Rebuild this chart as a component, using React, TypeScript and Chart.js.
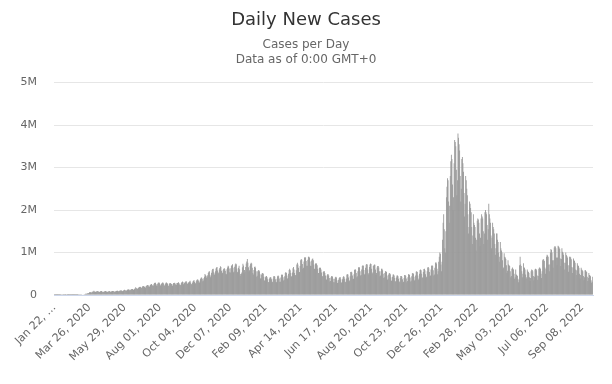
import React, { useEffect, useRef } from "react";
import { Chart, registerables } from "chart.js";

Chart.register(...registerables);

// Daily new cases in thousands, starting Jan 22, 2020 (one row = one week, Wed..Tue)
const cases2020a = [
  0.6, 0.1, 0.3, 0.7, 0.8, 0.8, 1.7,
  1.5, 1.8, 2.1, 2.6, 2.8, 3.2, 3.9,
  3.7, 3.2, 3.4, 2.7, 3.0, 2.5, 2.0,
  2.0, 15.1, 6.5, 2.7, 2.1, 2.0, 1.9,
  0.5, 0.6, 1.0, 0.6, 0.7, 0.6, 0.9,
  1.0, 1.3, 1.6, 1.9, 2.1, 1.9, 2.2,
  2.3, 2.6, 3.9, 3.8, 4.0, 3.6, 4.6,
  7.0, 7.5, 10.8, 11.0, 12.6, 15.0, 17.0,
  19.5, 27.0, 32.0, 31.5, 33.0, 40.0, 42.0,
  49, 62, 64, 64, 58, 60, 74,
  78, 82, 98, 80, 74, 72, 80,
  85, 86, 92, 84, 75, 72, 76,
  87, 90, 95, 82, 73, 72, 76,
  83, 90, 96, 93, 76, 71, 76,
  79, 88, 96, 86, 77, 73, 81,
  92, 92, 96, 87, 77, 74, 84,
  87, 97, 99, 98, 83, 89, 92,
  102, 108, 105, 104, 98, 90, 94,
  107, 119, 126, 114, 101, 99, 112,
  124, 128, 131, 131, 111, 110, 126,
];
const cases2020b = [
  136, 140, 143, 137, 120, 125, 146,
  145, 181, 156, 159, 145, 150, 170,
  178, 188, 193, 188, 162, 168, 190,
  210, 209, 201, 193, 182, 170, 214,
  216, 234, 235, 221, 186, 195, 226,
  238, 257, 260, 236, 211, 220, 254,
  282, 287, 290, 261, 223, 220, 265,
  287, 294, 290, 260, 229, 213, 262,
  280, 292, 290, 262, 216, 232, 267,
  290, 295, 280, 267, 218, 216, 263,
  277, 282, 272, 261, 222, 218, 260,
  282, 285, 291, 265, 238, 240, 282,
  283, 291, 303, 278, 245, 230, 242,
  288, 300, 320, 307, 253, 271, 286,
  303, 318, 325, 297, 262, 262, 292,
  303, 320, 333, 296, 258, 245, 281,
  316, 329, 352, 311, 270, 278, 317,
  348, 362, 366, 341, 297, 293, 340,
  385, 405, 414, 380, 326, 342, 395,
  427, 492, 467, 456, 405, 428, 463,
];
const cases2020c = [
  520, 550, 560, 478, 417, 455, 525,
  585, 612, 618, 538, 470, 505, 557,
  625, 648, 660, 578, 507, 530, 602,
  633, 675, 657, 570, 499, 521, 583,
  610, 638, 610, 572, 500, 490, 606,
  645, 686, 671, 625, 538, 530, 628,
  689, 700, 721, 640, 536, 552, 664,
  717, 744, 722, 623, 533, 548, 643,
  690, 606, 456, 496, 498, 530, 656,
  737, 696, 510, 591, 551, 659, 744,
  790, 845, 760, 655, 545, 585, 690,
  735, 760, 740, 640, 520, 480, 590,
  660, 670, 640, 560, 430, 455, 560,
  580, 590, 560, 490, 390, 395, 480,
  510, 520, 500, 430, 340, 340, 420,
  440, 445, 420, 370, 300, 305, 380,
  410, 420, 410, 370, 300, 310, 380,
  440, 450, 430, 370, 310, 300, 380,
  440, 460, 440, 390, 310, 310, 410,
  470, 490, 470, 420, 340, 360, 440,
];
const cases2021a = [
  520, 540, 520, 460, 380, 400, 500,
  590, 620, 580, 520, 430, 450, 530,
  630, 660, 600, 520, 460, 470, 580,
  720, 760, 720, 640, 530, 540, 680,
  820, 850, 830, 730, 620, 640, 790,
  880, 890, 880, 800, 690, 690, 830,
  900, 900, 880, 790, 690, 680, 810,
  850, 860, 820, 720, 620, 610, 740,
  740, 740, 700, 620, 520, 520, 640,
  640, 640, 600, 530, 440, 440, 540,
  560, 560, 520, 460, 370, 360, 460,
  490, 490, 460, 400, 320, 330, 410,
  440, 450, 430, 380, 300, 300, 380,
  420, 430, 410, 350, 280, 290, 360,
  400, 420, 420, 370, 290, 300, 370,
  420, 440, 430, 380, 300, 310, 390,
  480, 490, 480, 410, 320, 340, 440,
  540, 550, 530, 460, 370, 380, 490,
  590, 610, 590, 520, 420, 440, 560,
  650, 660, 650, 560, 460, 470, 600,
];
const cases2021b = [
  680, 700, 690, 590, 480, 500, 640,
  710, 730, 720, 600, 490, 520, 660,
  720, 740, 730, 620, 500, 530, 680,
  700, 720, 710, 600, 470, 520, 650,
  680, 680, 650, 560, 440, 460, 560,
  620, 620, 580, 500, 400, 420, 520,
  560, 560, 540, 460, 360, 380, 480,
  520, 510, 490, 420, 330, 350, 430,
  480, 480, 460, 400, 310, 330, 410,
  460, 460, 440, 380, 300, 320, 400,
  450, 450, 430, 370, 290, 310, 400,
  470, 470, 450, 390, 300, 330, 420,
  490, 490, 470, 410, 320, 340, 440,
  510, 520, 500, 430, 340, 360, 460,
  550, 560, 540, 460, 360, 390, 500,
  590, 600, 580, 500, 400, 420, 540,
  610, 620, 580, 490, 400, 430, 560,
  650, 660, 630, 540, 440, 460, 600,
  690, 700, 680, 580, 460, 480, 640,
  760, 770, 740, 620, 490, 560, 780,
];
const cases2022a = [
  900, 1000, 970, 720, 560, 780, 1300,
  1700, 1900, 1550, 1100, 1000, 1500, 2300,
  2550, 2750, 2700, 2200, 1700, 2100, 2800,
  3150, 3300, 3200, 2600, 2000, 2300, 3100,
  3650, 3600, 3500, 2950, 2350, 2700, 3800,
  3700, 3550, 3400, 2800, 2200, 2500, 3200,
  3250, 3100, 2900, 2400, 1850, 2150, 2800,
  2700, 2500, 2350, 1900, 1450, 1600, 2200,
  2150, 2050, 1950, 1600, 1200, 1400, 1900,
  1700, 1650, 1600, 1350, 1050, 1300, 1750,
  1800, 1780, 1700, 1450, 1150, 1350, 1800,
  1900, 1850, 1800, 1500, 1200, 1450, 1950,
  2000, 1950, 1900, 1650, 1300, 1550, 2150,
  1900, 1800, 1700, 1400, 1100, 1350, 1700,
  1600, 1550, 1450, 1200, 950, 1100, 1450,
  1450, 1300, 1250, 1000, 780, 900, 1250,
  1100, 1050, 1000, 820, 620, 650, 980,
  900, 880, 850, 700, 520, 570, 820,
  720, 700, 680, 560, 420, 450, 620,
  650, 620, 600, 500, 380, 420, 600,
];
const cases2022b = [
  480, 470, 450, 380, 300, 360, 700,
  900, 720, 680, 560, 420, 500, 750,
  650, 640, 600, 480, 380, 420, 600,
  560, 540, 520, 420, 330, 400, 560,
  600, 590, 560, 450, 350, 430, 600,
  620, 610, 580, 460, 360, 450, 620,
  650, 640, 620, 500, 400, 560, 820,
  850, 830, 800, 650, 500, 620, 900,
  950, 930, 900, 720, 560, 720, 1000,
  1080, 1060, 1000, 820, 640, 820, 1120,
  1150, 1140, 1100, 880, 700, 880, 1160,
  1140, 1120, 1080, 860, 680, 850, 1100,
  1020, 1000, 950, 760, 600, 760, 1000,
  940, 920, 880, 700, 550, 700, 900,
  900, 880, 840, 660, 520, 650, 860,
  820, 800, 760, 600, 470, 580, 750,
  700, 680, 640, 500, 390, 470, 640,
  600, 580, 560, 450, 350, 420, 580,
  580, 560, 540, 430, 330, 400, 520,
  470, 460, 440, 350, 290, 310, 430,
];

const tickLabels = [
  "Jan 22, …", "Mar 26, 2020", "May 29, 2020", "Aug 01, 2020",
  "Oct 04, 2020", "Dec 07, 2020", "Feb 09, 2021", "Apr 14, 2021",
  "Jun 17, 2021", "Aug 20, 2021", "Oct 23, 2021", "Dec 26, 2021",
  "Feb 28, 2022", "May 03, 2022", "Jul 06, 2022", "Sep 08, 2022",
];
const tickStep = 64;
const yTickValues = [0, 1, 2, 3, 4, 5];

const MONTHS = ["Jan", "Feb", "Mar", "Apr", "May", "Jun", "Jul", "Aug", "Sep", "Oct", "Nov", "Dec"];

export default function App() {
  const ref = useRef<HTMLCanvasElement | null>(null);

  useEffect(() => {
    if (!ref.current) return;
    const values = [
      ...cases2020a, ...cases2020b, ...cases2020c,
      ...cases2021a, ...cases2021b, ...cases2022a, ...cases2022b,
    ].map((v) => v * 1000);
    const start = Date.UTC(2020, 0, 22);
    const categories = values.map((_, i) => {
      const d = new Date(start + i * 86400000);
      return `${MONTHS[d.getUTCMonth()]} ${String(d.getUTCDate()).padStart(2, "0")}, ${d.getUTCFullYear()}`;
    });
    const font = "'DejaVu Sans', sans-serif";

    const chart = new Chart(ref.current, {
      type: "bar",
      data: {
        labels: categories,
        datasets: [
          {
            label: "Daily Cases",
            data: values,
            backgroundColor: "#999999",
            borderWidth: 0,
            barPercentage: 1.6,
            categoryPercentage: 1,
          },
        ],
      },
      options: {
        responsive: false,
        animation: false,
        layout: { padding: { left: 19, right: 19, top: 0, bottom: 0 } },
        plugins: {
          legend: { display: false },
          tooltip: { enabled: false },
          title: {
            display: true,
            text: "Daily New Cases",
            color: "#333333",
            font: { family: font, size: 18, weight: "normal", lineHeight: 1.2 },
            padding: { top: 10, bottom: 2 },
          },
          subtitle: {
            display: true,
            text: ["Cases per Day", "Data as of 0:00 GMT+0"],
            color: "#666666",
            font: { family: font, size: 12, weight: "normal", lineHeight: 1.25 },
            padding: { top: 4, bottom: 15 },
          },
        },
        scales: {
          x: {
            grid: { display: false, drawTicks: false },
            border: { display: true, color: "#ccd6eb", width: 1 },
            ticks: {
              autoSkip: false,
              maxRotation: 45,
              minRotation: 45,
              padding: 6,
              color: "#666666",
              font: { family: font, size: 11 },
              callback: (_v: any, index: number) =>
                index % tickStep === 0 ? tickLabels[index / tickStep] : null,
            },
            afterFit: (scale: any) => {
              scale.height = 89;
            },
          },
          y: {
            min: 0,
            max: 5000000,
            grid: { color: "#e6e6e6", drawTicks: false },
            border: { display: false },
            afterBuildTicks: (scale: any) => {
              scale.ticks = yTickValues.map((v) => ({ value: v * 1000000 }));
            },
            ticks: {
              padding: 17,
              color: "#666666",
              font: { family: font, size: 11 },
              callback: (v: any) => (v === 0 ? "0" : `${v / 1000000}M`),
            },
            afterFit: (scale: any) => {
              scale.width = 35;
            },
          },
        },
      },
    });
    return () => chart.destroy();
  }, []);

  return (
    <div style={{ position: "absolute", left: 0, top: 0, width: 612, height: 384, background: "#fff" }}>
      <canvas ref={ref} width={612} height={384} />
    </div>
  );
}
